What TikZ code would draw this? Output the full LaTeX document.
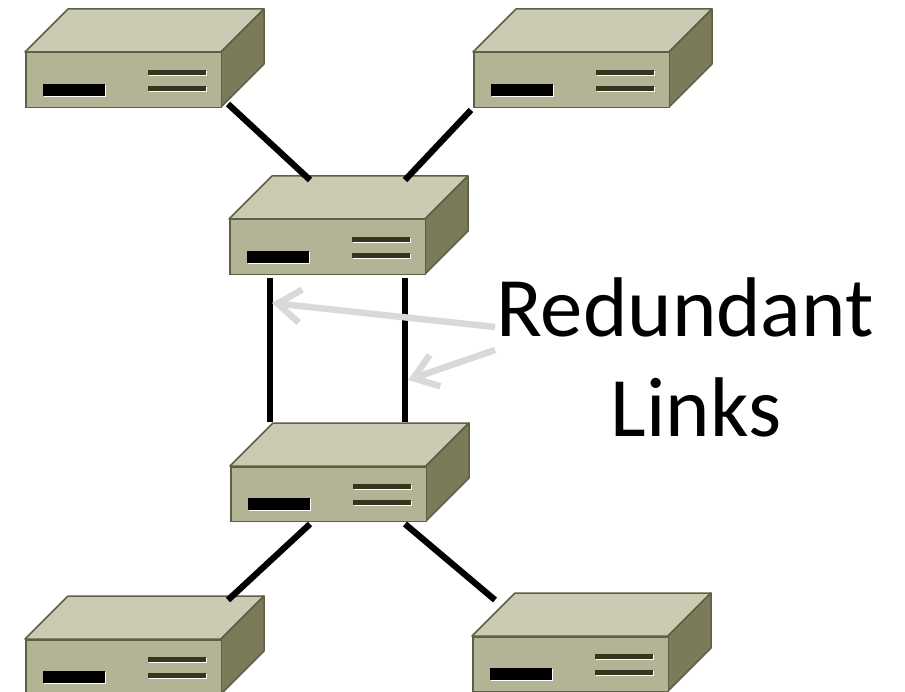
\documentclass[tikz,border=0pt]{standalone}
\usepackage{fontspec}
\setmainfont{Carlito}
\usepackage{xcolor}
\usepackage{tikz}
\usetikzlibrary{positioning,calc,arrows.meta}
\definecolor{swtop}{HTML}{CBCBB3}
\definecolor{swfront}{HTML}{B3B395}
\definecolor{swside}{HTML}{7B7B59}
\definecolor{swedge}{HTML}{5F5F45}
\definecolor{swslot}{HTML}{35351F}
\definecolor{arrowgray}{HTML}{D9D9D9}
\tikzstyle{front}= [draw=swedge, fill=swfront, line width=0.03cm, anchor=north west, inner sep=0pt, minimum width=3.92cm, minimum height=1.1cm]
\tikzstyle{face}= [draw=swedge, line width=0.03cm, line join=round]
\tikzstyle{link}= [line width=0.125cm, black]
\tikzstyle{pointer}= [line width=0.13cm, arrowgray, -{Straight Barb[length=0.46cm, width=0.66cm, line width=0.13cm]}]
\tikzstyle{bigtext}= [font=\fontsize{48.2pt}{50pt}\selectfont, anchor=base, inner sep=0pt]
\newcommand{\switchbox}[3]{
	\begin{scope}[shift={(#2,#3)}]
		\draw[face, fill=swtop] (0,0) -- (43,-43) -- (239,-43) -- (196,0) -- cycle;
		\draw[face, fill=swside] (196,0) -- (239,-43) -- (239,12) -- (196,55) -- cycle;
		\node[front] (#1) at (0,0) {};
		\fill[white] (19,33) rectangle (81,45);
		\fill[black] (18,32) rectangle (80,44);
		\fill[white] (124,19) rectangle (182,24);
		\fill[swslot] (123,18) rectangle (181,23);
		\fill[white] (124,35) rectangle (182,40);
		\fill[swslot] (123,34) rectangle (181,39);
		% ports for the links
		\coordinate (#1-tl) at (81,-39);
		\coordinate (#1-tr) at (176,-39);
	\end{scope}
}

\begin{document}
\begin{tikzpicture}[x=0.02cm, y=-0.02cm]
	\path[use as bounding box, clip] (0,0) rectangle (905,692);
	\fill[white] (0,0) rectangle (905,692);

	\switchbox{sw1}{25}{52}
	\switchbox{sw2}{473}{52}
	\switchbox{sw3}{229}{219}
	\switchbox{sw4}{230}{466}
	\switchbox{sw5}{25}{639}
	\switchbox{sw6}{472}{636}

	\coordinate (sw1-out) at (228,104);
	\coordinate (sw2-out) at (471,110);
	\coordinate (sw5-in) at (228,600);
	\coordinate (sw6-in) at (495,600);
	\coordinate (sw3-lo) at (270,278);
	\coordinate (sw3-ro) at (405,278);
	\coordinate (sw4-li) at (270,422);
	\coordinate (sw4-ri) at (405,422);
	\coordinate (sw4-lo) at (310,524);
	\coordinate (sw4-ro) at (405,524);

	\draw[link] (sw1-out) -- (sw3-tl);
	\draw[link] (sw2-out) -- (sw3-tr);
	\draw[link] (sw3-lo) -- (sw4-li);
	\draw[link] (sw3-ro) -- (sw4-ri);
	\draw[link] (sw4-lo) -- (sw5-in);
	\draw[link] (sw4-ro) -- (sw6-in);

	\node[bigtext] (lbl1) at (685,336) {Redundant};
	\node[bigtext] (lbl2) at (696,436) {Links};

	\coordinate (p1) at (495,327);
	\coordinate (p2) at (495,350);
	\coordinate (t1) at (272,303);
	\coordinate (t2) at (408,380);
	\draw[pointer] (p1) -- (t1);
	\draw[pointer] (p2) -- (t2);
\end{tikzpicture}
\end{document}
